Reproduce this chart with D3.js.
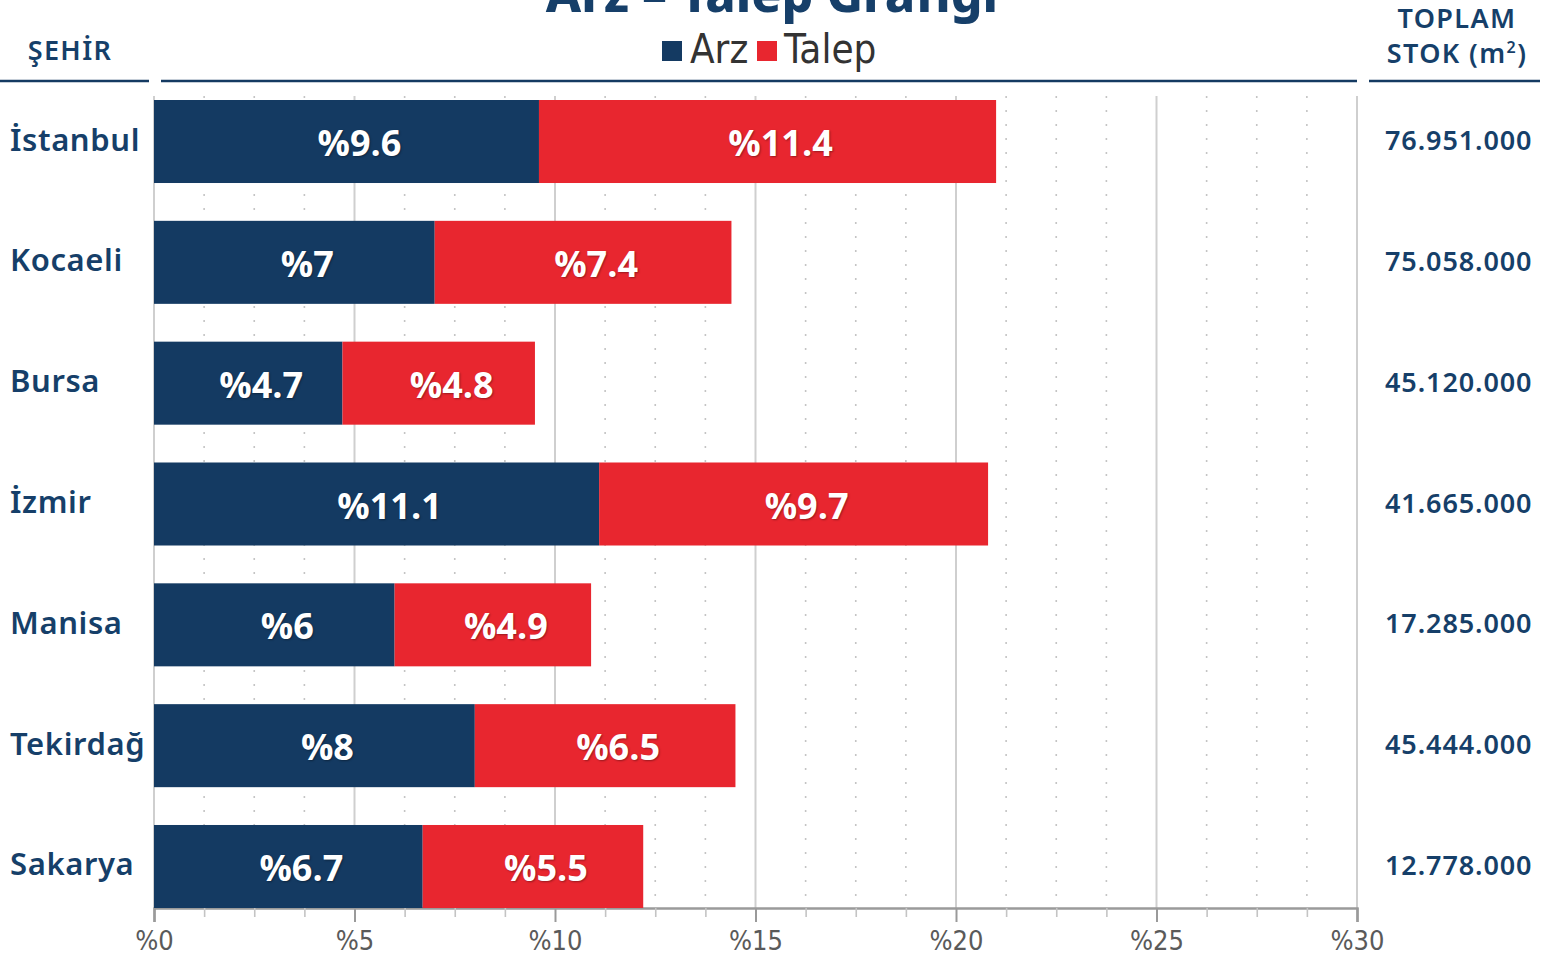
<!DOCTYPE html>
<html>
<head>
<meta charset="utf-8">
<script src="https://cdn.jsdelivr.net/npm/d3@7"></script>
<style>
  html, body { margin: 0; padding: 0; background: #fff; overflow: hidden; }
  svg { display: block; }
</style>
</head>
<body>
<svg id="chart" width="1549" height="955"></svg>
<script>
// ---- Data ----
const cities = ["İstanbul", "Kocaeli", "Bursa", "İzmir", "Manisa", "Tekirdağ", "Sakarya"];
const arz = [9.6, 7, 4.7, 11.1, 6, 8, 6.7];
const talep = [11.4, 7.4, 4.8, 9.7, 4.9, 6.5, 5.5];
const stok = ["76.951.000", "75.058.000", "45.120.000", "41.665.000", "17.285.000", "45.444.000", "12.778.000"];
const majorTicks = [0, 5, 10, 15, 20, 25, 30];
const minorTicks = [1.25, 2.5, 3.75, 6.25, 7.5, 8.75, 11.25, 12.5, 13.75, 16.25, 17.5, 18.75, 21.25, 22.5, 23.75, 26.25, 27.5, 28.75];
const seriesNames = ["Arz", "Talep"];

// ---- Styles ----
const NAVY = "#143a62";
const RED = "#e8262f";
const TEXT = "#163f69";
const geo = "'Noto Sans', 'Open Sans', sans-serif";
const cond = "'Liberation Sans Narrow', 'DejaVu Sans Condensed', 'Open Sans', sans-serif";

const svg = d3.select("#chart");

const x = d3.scaleLinear().domain([0, 30]).range([154, 1357]);
const y = d3.scaleBand().domain(cities).range([100, 908]).paddingInner(0.313).paddingOuter(0);
const color = d3.scaleOrdinal().domain(seriesNames).range([NAVY, RED]);

const gridTop = 96, axisY = 908;

// minor dotted grid
svg.append("g").selectAll("line").data(minorTicks).join("line")
  .attr("x1", d => x(d)).attr("x2", d => x(d))
  .attr("y1", gridTop).attr("y2", axisY)
  .attr("stroke", "#c4c4c4").attr("stroke-width", 1.6)
  .attr("stroke-dasharray", "2,12");

// major grid
svg.append("g").selectAll("line").data(majorTicks).join("line")
  .attr("x1", d => x(d)).attr("x2", d => x(d))
  .attr("y1", gridTop).attr("y2", axisY)
  .attr("stroke", "#cfcfcf").attr("stroke-width", 2);

// axis
const axisG = svg.append("g").attr("transform", `translate(0,${axisY})`)
  .call(d3.axisBottom(x).tickValues(majorTicks).tickSize(14).tickPadding(9).tickFormat(d => "%" + d));
axisG.select(".domain").attr("stroke", "#9a9a9a").attr("stroke-width", 2.5);
axisG.selectAll(".tick line").attr("stroke", "#9a9a9a").attr("stroke-width", 2);
axisG.selectAll(".tick text").attr("fill", "#5a5a5a").style("font-family", cond).style("font-size", "27px");

const minorAxis = svg.append("g").attr("transform", `translate(0,${axisY})`)
  .call(d3.axisBottom(x).tickValues(minorTicks).tickSize(9).tickFormat(""));
minorAxis.select(".domain").remove();
minorAxis.selectAll(".tick line").attr("stroke", "#c4c4c4").attr("stroke-width", 1.6);

// bars
const rows = cities.map((c, i) => ({ city: c, arz: arz[i], talep: talep[i], stok: stok[i] }));
const stack = d3.stack().keys(["arz", "talep"]);
const stacked = stack(rows);

stacked.forEach((layer, li) => {
  const g = svg.append("g");
  g.selectAll("rect").data(layer).join("rect")
    .attr("x", d => x(d[0]))
    .attr("width", d => x(d[1]) - x(d[0]))
    .attr("y", d => y(d.data.city))
    .attr("height", y.bandwidth())
    .attr("fill", color(seriesNames[li]));
  g.selectAll("text").data(layer).join("text")
    .attr("x", d => (x(d[0]) + x(d[1])) / 2 + 13)
    .attr("y", d => y(d.data.city) + y.bandwidth() / 2 + 1)
    .attr("text-anchor", "middle")
    .attr("dominant-baseline", "central")
    .attr("fill", "#fff")
    .style("font-family", "'Open Sans', sans-serif")
    .style("font-weight", 700)
    .style("font-size", "36px")
    .style("text-shadow", "1px 1px 2px rgba(0,0,0,0.35)")
    .text(d => "%" + +(d[1] - d[0]).toFixed(1));
});

// city labels
svg.append("g").selectAll("text").data(cities).join("text")
  .attr("x", 10)
  .attr("y", d => y(d) + y.bandwidth() / 2 - 3)
  .attr("dominant-baseline", "central")
  .attr("fill", TEXT)
  .style("font-family", geo).style("font-weight", 600).style("font-size", "31px")
  .style("letter-spacing", "0.6px")
  .text(d => d);

// stock labels
svg.append("g").selectAll("text").data(rows).join("text")
  .attr("x", 1385)
  .attr("y", d => y(d.city) + y.bandwidth() / 2 - 2)
  .attr("dominant-baseline", "central")
  .attr("fill", TEXT)
  .style("font-family", geo).style("font-weight", 600).style("font-size", "27px")
  .style("letter-spacing", "0.9px")
  .text(d => d.stok);

// header lines
const hdr = [[0, 149], [161, 1357], [1369, 1540]];
svg.append("g").selectAll("line").data(hdr).join("line")
  .attr("x1", d => d[0]).attr("x2", d => d[1])
  .attr("y1", 81).attr("y2", 81)
  .attr("stroke", NAVY).attr("stroke-width", 2.5);

// headers
const hdrStyle = sel => sel.attr("text-anchor", "middle").attr("fill", TEXT)
  .style("font-family", geo).style("font-weight", 600).style("font-size", "27px").style("letter-spacing", "1.4px");
svg.append("text").attr("x", 70).attr("y", 60).call(hdrStyle).text("ŞEHİR");
svg.append("text").attr("x", 1457).attr("y", 28).call(hdrStyle).text("TOPLAM");
const st = svg.append("text").attr("x", 1457).attr("y", 63).call(hdrStyle);
st.append("tspan").text("STOK (m");
st.append("tspan").attr("dy", -10).style("font-size", "16px").text("2");
st.append("tspan").attr("dy", 10).text(")");

// title
svg.append("text").attr("x", 772).attr("y", 12).attr("text-anchor", "middle")
  .attr("fill", TEXT).style("font-family", geo).style("font-weight", 800).style("font-size", "50px")
  .text("Arz – Talep Grafiği");

// legend
const legend = svg.append("g");
const legItems = [{ name: "Arz", x: 662, tx: 690 }, { name: "Talep", x: 757, tx: 784 }];
legend.selectAll("rect").data(legItems).join("rect")
  .attr("x", d => d.x).attr("y", 41).attr("width", 20).attr("height", 20)
  .attr("fill", d => color(d.name));
legend.selectAll("text").data(legItems).join("text")
  .attr("x", d => d.tx).attr("y", 63)
  .attr("fill", "#333")
  .style("font-family", cond).style("font-size", "40px")
  .text(d => d.name);
</script>
</body>
</html>
